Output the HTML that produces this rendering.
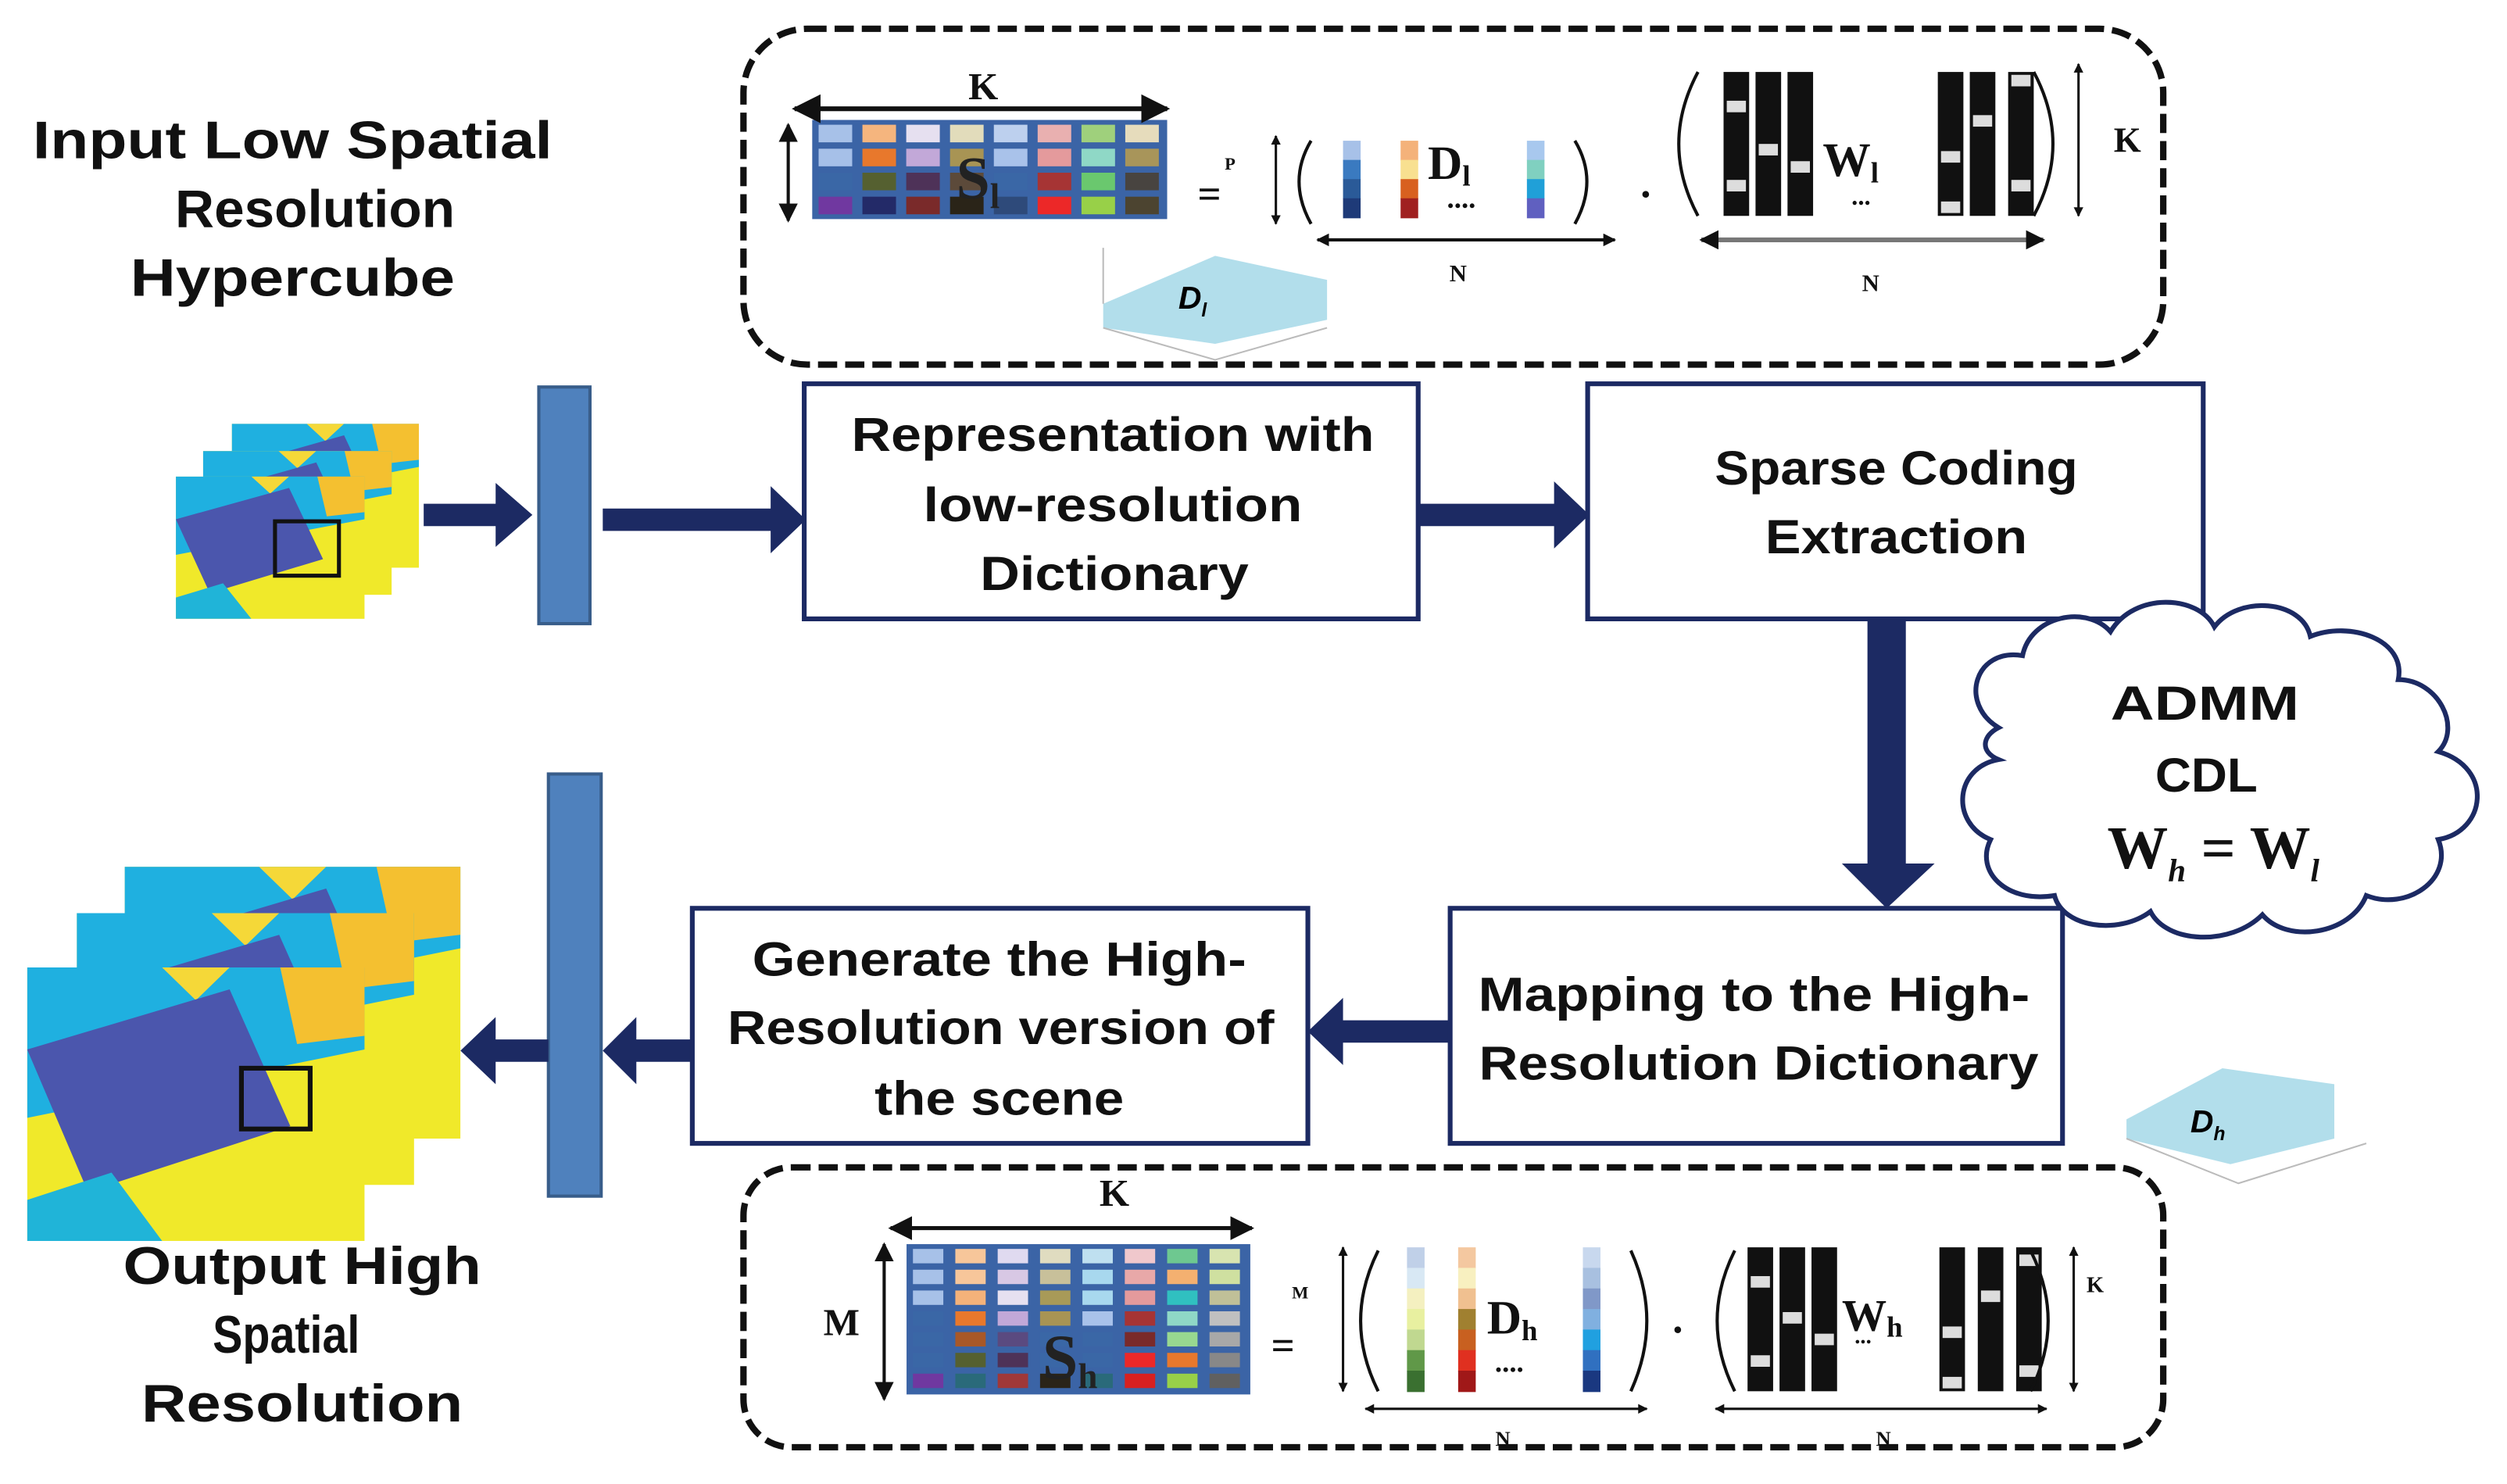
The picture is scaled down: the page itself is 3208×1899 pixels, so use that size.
<!DOCTYPE html>
<html><head><meta charset="utf-8"><style>
html,body{margin:0;padding:0;background:#fff;}
svg{display:block}
.t{font-family:"Liberation Sans",sans-serif;font-weight:bold;fill:#111;}
.s{font-family:"Liberation Serif",serif;font-weight:bold;fill:#111;}
</style></head><body>
<svg id="sv" width="3208" height="1899" viewBox="0 0 1568 928" preserveAspectRatio="none" xmlns="http://www.w3.org/2000/svg">
<defs>
<marker id="ah" viewBox="0 0 10 10" refX="9" refY="5" markerWidth="6" markerHeight="6" orient="auto-start-reverse"><path d="M0,0L10,5L0,10z" fill="#111"/></marker>
<marker id="ah2" viewBox="0 0 10 10" refX="9" refY="5" markerWidth="4" markerHeight="4" orient="auto-start-reverse"><path d="M0,0L10,5L0,10z" fill="#111"/></marker>
<symbol id="cube" viewBox="0 0 100 100" preserveAspectRatio="none">
<rect width="100" height="100" fill="#f0e92a"/>
<polygon points="0,0 100,0 100,30 60,40 0,55" fill="#1fb0e0"/>
<polygon points="40,0 60,0 50,12" fill="#f5d838"/>
<polygon points="75,0 100,0 100,25 80,28" fill="#f4c030"/>
<polygon points="0,30 60,8 78,58 18,82" fill="#4b56ad"/>
<polygon points="0,85 25,75 40,100 0,100" fill="#20b4d8"/>
</symbol>
</defs>

<g class="t" font-size="33" text-anchor="middle">
<text x="183" y="99" textLength="325" lengthAdjust="spacingAndGlyphs">Input Low Spatial</text>
<text x="197" y="142" textLength="175" lengthAdjust="spacingAndGlyphs">Resolution</text>
<text x="183" y="185" textLength="203" lengthAdjust="spacingAndGlyphs">Hypercube</text>
<text x="189" y="803" textLength="224" lengthAdjust="spacingAndGlyphs">Output High</text>
<text x="179" y="846" textLength="92" lengthAdjust="spacingAndGlyphs">Spatial</text>
<text x="189" y="889" textLength="201" lengthAdjust="spacingAndGlyphs">Resolution</text>
</g>

<rect x="465" y="18" width="888" height="210" rx="40" fill="none" stroke="#111" stroke-width="4" stroke-dasharray="12,5"/>
<rect x="465" y="730" width="888" height="175" rx="30" fill="none" stroke="#111" stroke-width="4" stroke-dasharray="12,5"/>

<use href="#cube" x="145" y="265" width="117" height="90"/>
<use href="#cube" x="127" y="282" width="118" height="90"/>
<use href="#cube" x="110" y="298" width="118" height="89"/>
<rect x="172" y="326" width="40" height="34" fill="none" stroke="#111" stroke-width="2.5"/>

<use href="#cube" x="78" y="542" width="210" height="170"/>
<use href="#cube" x="48" y="571" width="211" height="170"/>
<use href="#cube" x="17" y="605" width="211" height="171"/>
<rect x="151" y="668" width="43" height="38" fill="none" stroke="#111" stroke-width="3"/>

<rect x="337" y="242" width="32" height="148" fill="#4f81bd" stroke="#385d8a" stroke-width="2"/>
<rect x="343" y="484" width="33" height="264" fill="#4f81bd" stroke="#385d8a" stroke-width="2"/>

<g fill="#1c2a63">
<polygon points="265,315 310,315 310,302 333,322 310,342 310,329 265,329"/>
<polygon points="377,318 482,318 482,304 504,325 482,346 482,332 377,332"/>
<polygon points="887,315 972,315 972,301 994,322 972,343 972,329 887,329"/>
<polygon points="1168,387 1192,387 1192,540 1210,540 1180,568 1152,540 1168,540"/>
<polygon points="907,638 840,638 840,624 818,645 840,666 840,652 907,652"/>
<polygon points="433,650 398,650 398,636 377,657 398,678 398,664 433,664"/>
<polygon points="343,650 310,650 310,636 288,657 310,678 310,664 343,664"/>
</g>

<g fill="#fff" stroke="#1c2a63" stroke-width="3">
<rect x="503" y="240" width="384" height="147"/>
<rect x="993" y="240" width="385" height="147"/>
<rect x="907" y="568" width="383" height="147"/>
<rect x="433" y="568" width="385" height="147"/>
</g>
<g class="t" font-size="30" text-anchor="middle">
<text x="696" y="282" textLength="327" lengthAdjust="spacingAndGlyphs">Representation with</text>
<text x="696" y="326" textLength="237" lengthAdjust="spacingAndGlyphs">low-resolution</text>
<text x="697" y="369" textLength="168" lengthAdjust="spacingAndGlyphs">Dictionary</text>
<text x="1186" y="303" textLength="227" lengthAdjust="spacingAndGlyphs">Sparse Coding</text>
<text x="1186" y="346" textLength="164" lengthAdjust="spacingAndGlyphs">Extraction</text>
<text x="1097" y="632" textLength="345" lengthAdjust="spacingAndGlyphs">Mapping to the High-</text>
<text x="1100" y="675" textLength="350" lengthAdjust="spacingAndGlyphs">Resolution Dictionary</text>
<text x="625" y="610" textLength="309" lengthAdjust="spacingAndGlyphs">Generate the High-</text>
<text x="626" y="653" textLength="342" lengthAdjust="spacingAndGlyphs">Resolution version of</text>
<text x="625" y="697" textLength="156" lengthAdjust="spacingAndGlyphs">the scene</text>
</g>

<path d="M1250,455 C1225,440 1235,405 1265,410 C1270,385 1305,378 1320,395 C1335,370 1375,372 1385,392 C1400,372 1440,375 1445,398 C1470,388 1505,400 1500,425 C1525,425 1540,455 1525,470 C1560,480 1555,520 1525,525 C1535,550 1505,570 1480,560 C1470,585 1430,590 1415,572 C1395,592 1355,590 1345,570 C1325,585 1290,580 1285,560 C1255,565 1235,545 1245,525 C1220,515 1222,480 1250,475 C1238,470 1240,460 1250,455 Z" fill="#fff" stroke="#1c2a63" stroke-width="3"/>
<g class="t" font-size="30" text-anchor="middle">
<text x="1379" y="450" textLength="118" lengthAdjust="spacingAndGlyphs">ADMM</text>
<text x="1380" y="495" textLength="64" lengthAdjust="spacingAndGlyphs">CDL</text>
</g>
<text x="1318" y="543" class="s" font-size="38">W<tspan font-size="20" font-style="italic" dy="8">h</tspan><tspan dy="-8"> = W</tspan><tspan font-size="20" font-style="italic" dy="8">l</tspan></text>

<g>
<polygon points="690,190 760,160 830,175 830,200 760,215 690,205" fill="#9fd6e6" opacity="0.8"/>
<path d="M690,190 L690,155 M690,205 L760,225 L830,205" stroke="#bbb" fill="none"/>
<text x="737" y="193" font-family="Liberation Sans,sans-serif" font-weight="bold" font-style="italic" font-size="20">D<tspan font-size="12" dy="5">l</tspan></text>
<polygon points="1330,700 1390,668 1460,678 1460,712 1395,728 1330,712" fill="#9fd6e6" opacity="0.8"/>
<path d="M1330,712 L1400,740 L1480,715" stroke="#bbb" fill="none"/>
<text x="1370" y="708" font-family="Liberation Sans,sans-serif" font-weight="bold" font-style="italic" font-size="20">D<tspan font-size="12" dy="5">h</tspan></text>
</g>

<g id="eq"></g>

<g class="s">
<line x1="497" y1="68" x2="730" y2="68" stroke="#111" stroke-width="3" marker-start="url(#ah)" marker-end="url(#ah)"/>
<text x="615" y="62" font-size="24" text-anchor="middle">K</text>
<line x1="493" y1="78" x2="493" y2="138" stroke="#111" stroke-width="2" marker-start="url(#ah)" marker-end="url(#ah)"/>
<text x="598" y="124" font-size="38" fill="#222">S<tspan font-size="22" dy="6">l</tspan></text>
<text x="749" y="130" font-size="26">=</text>
<text x="766" y="106" font-size="11">P</text>
<line x1="798" y1="85" x2="798" y2="140" stroke="#111" stroke-width="1.5" marker-start="url(#ah2)" marker-end="url(#ah2)"/>
<path d="M820,88 Q805,113 820,140 M985,88 Q1000,113 985,140" stroke="#111" stroke-width="2" fill="none"/>
<text x="893" y="112" font-size="30">D<tspan font-size="18" dy="4">l</tspan></text>
<text x="905" y="130" font-size="18">....</text>
<text x="1025" y="130" font-size="26">·</text>
<path d="M1062,45 Q1038,90 1062,135 M1272,45 Q1296,90 1272,135" stroke="#111" stroke-width="2" fill="none"/>
<text x="1140" y="110" font-size="30">W<tspan font-size="18" dy="4">l</tspan></text>
<text x="1158" y="128" font-size="16">...</text>
<line x1="1300" y1="40" x2="1300" y2="135" stroke="#111" stroke-width="1.5" marker-start="url(#ah2)" marker-end="url(#ah2)"/>
<text x="1322" y="95" font-size="22">K</text>
<line x1="824" y1="150" x2="1010" y2="150" stroke="#111" stroke-width="2" marker-start="url(#ah2)" marker-end="url(#ah2)"/>
<text x="912" y="176" font-size="15" text-anchor="middle">N</text>
<line x1="1064" y1="150" x2="1278" y2="150" stroke="#777" stroke-width="3" marker-start="url(#ah2)" marker-end="url(#ah2)"/>
<text x="1170" y="182" font-size="15" text-anchor="middle">N</text>
</g>
<g class="s">
<line x1="557" y1="768" x2="783" y2="768" stroke="#111" stroke-width="2.5" marker-start="url(#ah)" marker-end="url(#ah)"/>
<text x="697" y="754" font-size="24" text-anchor="middle">K</text>
<line x1="553" y1="778" x2="553" y2="875" stroke="#111" stroke-width="2" marker-start="url(#ah)" marker-end="url(#ah)"/>
<text x="515" y="835" font-size="24">M</text>
<text x="652" y="862" font-size="40" fill="#222">S<tspan font-size="22" dy="6">h</tspan></text>
<text x="795" y="850" font-size="26">=</text>
<text x="808" y="812" font-size="11">M</text>
<line x1="840" y1="780" x2="840" y2="870" stroke="#111" stroke-width="1.5" marker-start="url(#ah2)" marker-end="url(#ah2)"/>
<path d="M862,782 Q840,826 862,870 M1020,782 Q1040,826 1020,870" stroke="#111" stroke-width="2" fill="none"/>
<text x="930" y="834" font-size="30">D<tspan font-size="18" dy="4">h</tspan></text>
<text x="935" y="858" font-size="18">....</text>
<text x="1045" y="840" font-size="26">·</text>
<path d="M1085,782 Q1063,826 1085,870 M1270,782 Q1292,826 1270,870" stroke="#111" stroke-width="2" fill="none"/>
<text x="1152" y="832" font-size="28">W<tspan font-size="18" dy="4">h</tspan></text>
<text x="1160" y="840" font-size="14">...</text>
<line x1="1297" y1="780" x2="1297" y2="870" stroke="#111" stroke-width="1.5" marker-start="url(#ah2)" marker-end="url(#ah2)"/>
<text x="1305" y="808" font-size="14">K</text>
<line x1="854" y1="881" x2="1030" y2="881" stroke="#111" stroke-width="1.5" marker-start="url(#ah2)" marker-end="url(#ah2)"/>
<text x="940" y="904" font-size="13" text-anchor="middle">N</text>
<line x1="1073" y1="881" x2="1280" y2="881" stroke="#111" stroke-width="1.5" marker-start="url(#ah2)" marker-end="url(#ah2)"/>
<text x="1178" y="904" font-size="13" text-anchor="middle">N</text>
</g>
</svg>
<script>
(function(){
var ns="http://www.w3.org/2000/svg",g=document.getElementById("eq");
function R(x,y,w,h,f){var r=document.createElementNS(ns,"rect");r.setAttribute("x",x);r.setAttribute("y",y);r.setAttribute("width",w);r.setAttribute("height",h);r.setAttribute("fill",f);g.appendChild(r);}
var top=[["#a7c1e8","#f5b57e","#e6e0f0","#e2dcbb","#bdd0ee","#e9b0b0","#9fd07c","#e6dcbc"],
["#a6c0e8","#e8782c","#c2a8d8","#a89454","#a9c2ea","#e49a9c","#8fd8c6","#a8955a"],
["#3a67a6","#556030","#4e3258","#5c4a3a","#3a67a6","#a63434","#6ac86e","#484440"],
["#7038a0","#232a68","#7a2a2a","#2a2418","#2e4a7a","#ec2828","#98d048","#4c4430"]];
R(508,75,222,62,"#3b64a6");
for(var r=0;r<4;r++)for(var c=0;c<8;c++)R(512+c*27.4,78+r*15,21,11,top[r][c]);
var bot=[["#a7c1e8","#f7c69a","#e0daf0","#e0dcc0","#bfe0f0","#f0c8cc","#6ec890","#d8e4b0"],
["#a7c1e8","#f7c69a","#d8c8e4","#c8c09a","#a8d8ee","#e8a8a8","#f4b070","#cfe0a0"],
["#a7c1e8","#f4b27a","#e6e0f0","#a89a58","#a8d8ee","#e49a9c","#30c0c0","#c0c098"],
["#3a67a6","#e8782c","#c2a8d8","#a89454","#a9c2ea","#a63434","#8fd8c6","#c0c0c0"],
["#3a67a6","#a85828","#5a4a80","#3a67a6","#3a67a6","#7a2a2a","#98d890","#a8a8a8"],
["#3a67a6","#556030","#4e3258","#3a67a6","#3a67a6","#ec2828","#e8782c","#888888"],
["#7038a0","#2a6a7a","#a03838","#2a2418","#2a6a7a","#d82020","#98d048","#606060"]];
R(567,778,215,94,"#3b64a6");
for(r=0;r<7;r++)for(c=0;c<8;c++)R(571+c*26.5,781+r*13,19,9,bot[r][c]);
function col(x,y,h,cs){var n=cs.length;for(var i=0;i<n;i++)R(x,y+i*h/n,11,h/n+0.5,cs[i]);}
col(840,88,48,["#a7c1e8","#3a7ac0","#2a5a98","#1e3a78"]);
col(876,88,48,["#f4b27a","#f8e090","#d86020","#a02020"]);
col(955,88,48,["#a8c8ee","#80d0c0","#20a0d8","#6060c0"]);
col(880,780,90,["#c0d0e8","#d8e8f4","#f4f0c0","#e8f0a0","#c0d890","#609848","#3a7030"]);
col(912,780,90,["#f4c8a0","#f8f0c0","#f0c090","#a08030","#c86020","#e03020","#a01818"]);
col(990,780,90,["#c8d8ee","#a8c0e0","#8098c8","#80b0e0","#20a0e0","#3070c0","#1a3880"]);
function wcol(x,y,w,h,wh){R(x,y,w,h,"#111");for(var i=0;i<wh.length;i++)R(x+2,y+wh[i]*h,w-4,h*0.08,"#ddd");}
wcol(1078,45,16,90,[0.2,0.75]);wcol(1098,45,16,90,[0.5]);wcol(1118,45,16,90,[0.62]);
wcol(1212,45,16,90,[0.55,0.9]);wcol(1232,45,16,90,[0.3]);wcol(1256,45,16,90,[0.02,0.75]);
wcol(1093,780,16,90,[0.2,0.75]);wcol(1113,780,16,90,[0.45]);wcol(1133,780,16,90,[0.6]);
wcol(1213,780,16,90,[0.55,0.9]);wcol(1237,780,16,90,[0.3]);wcol(1261,780,16,90,[0.05,0.82]);
})();
</script>
</body></html>
